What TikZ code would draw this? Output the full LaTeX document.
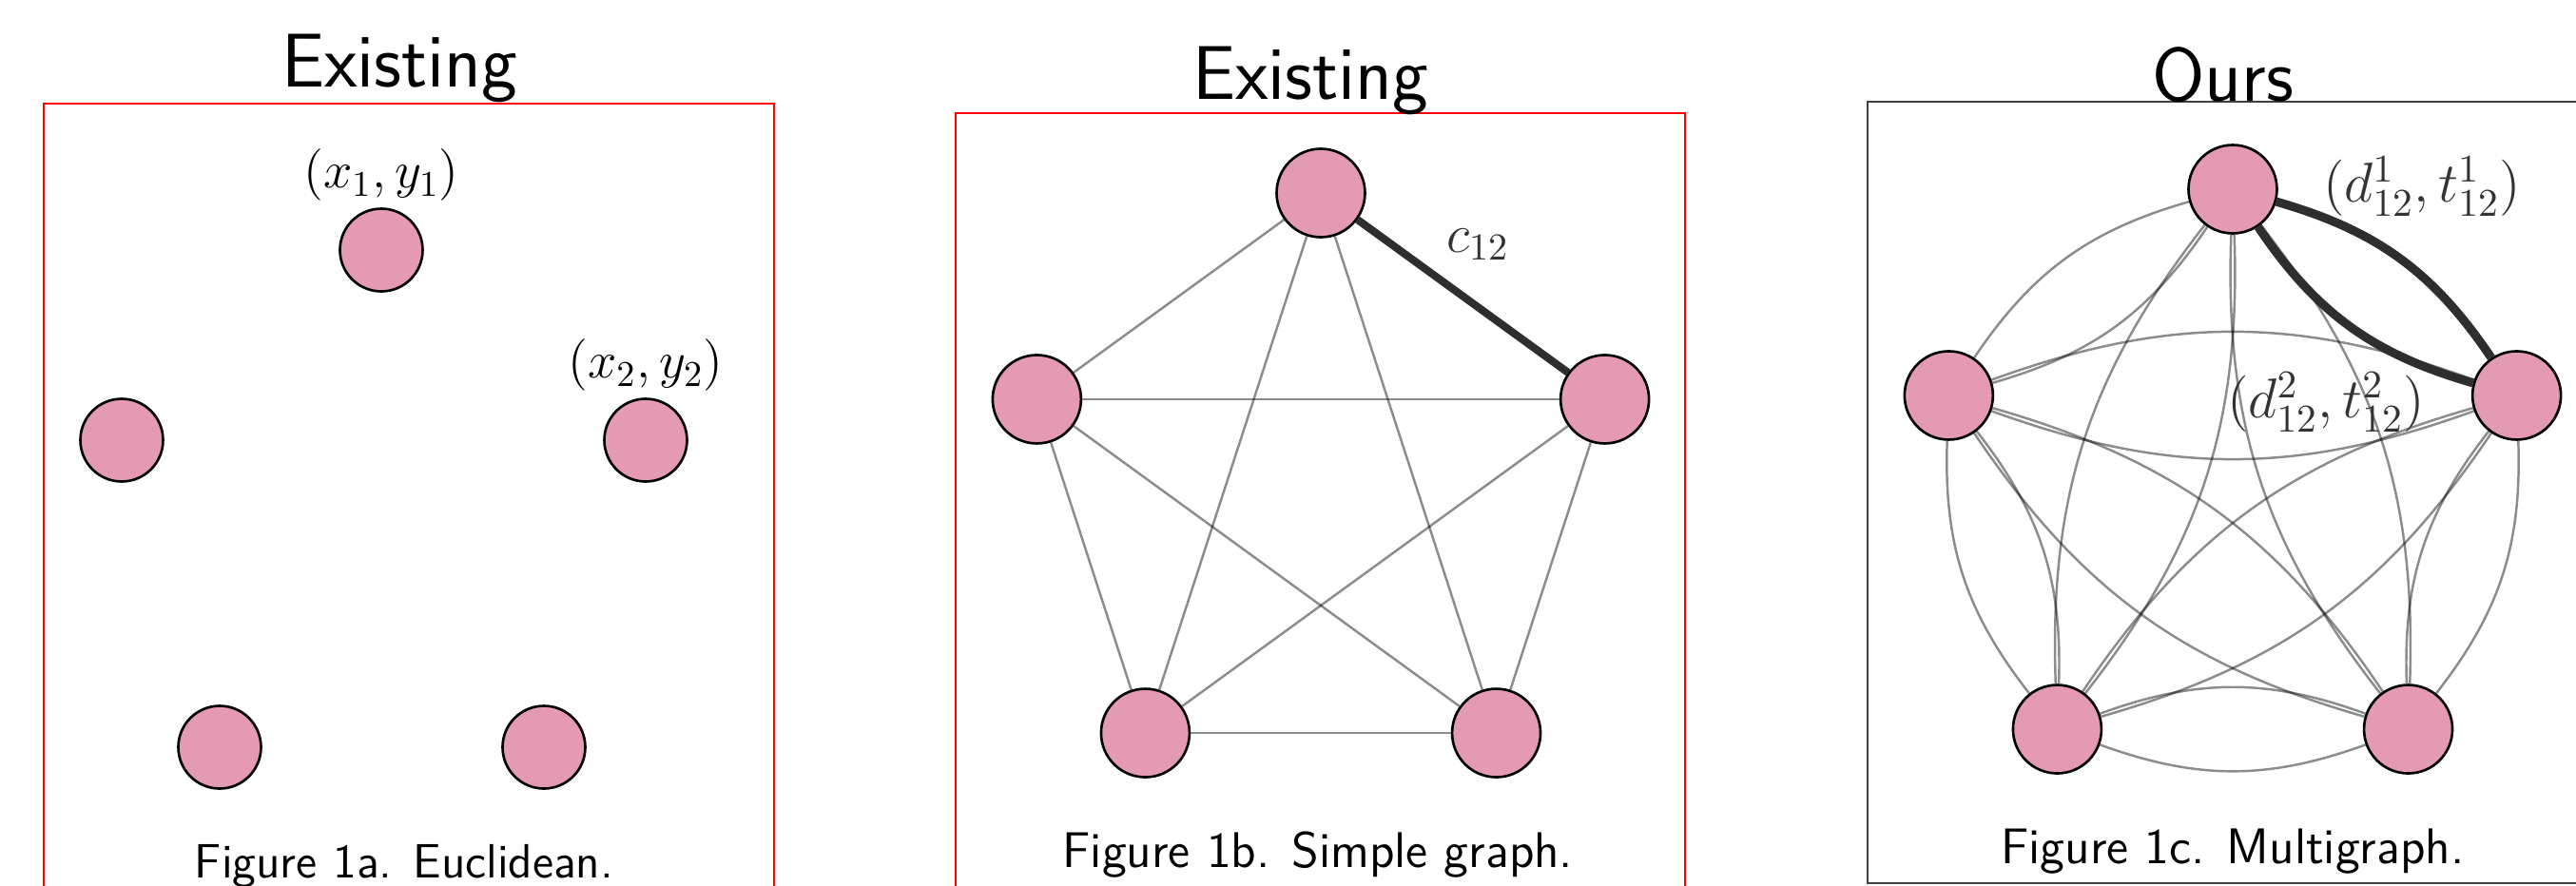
\RequirePackage{fix-cm}
\documentclass[tikz,border=0pt]{standalone}
\usepackage{amsmath}
\usetikzlibrary{positioning,calc}
\definecolor{Rose}{HTML}{E59AB3}
\definecolor{Ink}{HTML}{333333}
\tikzset{
 vtx/.style={circle,draw=black,line width=0.75pt,fill=Rose,minimum size=9.3mm,inner sep=0pt},
 smallvtx/.style={vtx,minimum size=8.7mm},
 panel/.style={draw=red,line width=0.5pt},
 ourpanel/.style={draw=black!75,line width=0.55pt},
 title/.style={font=\sffamily\fontsize{22.8}{27}\selectfont,anchor=base,inner sep=0pt},
 caption/.style={font=\sffamily\fontsize{15}{18}\selectfont,anchor=base,inner sep=0pt},
 lbl/.style={font=\fontsize{15.5}{18}\selectfont,inner sep=0pt},
 biglbl/.style={lbl,font=\fontsize{16.8}{20}\selectfont,text=Ink},
 link/.style={draw=black,draw opacity=0.45,line width=0.7pt},
 heavy/.style={draw=black!82,line width=2.6pt}
}
\begin{document}
\begin{tikzpicture}
\useasboundingbox (0,0) rectangle (27.09,9.31);
\draw[panel] (0.46,-0.5) rectangle (8.14,8.22);
\node[title] (ta) at (4.20,8.40) {Existing};
\node[smallvtx] (a1) at (4.01,6.68) {};
\node[smallvtx] (a2) at (6.79,4.68) {};
\node[smallvtx] (a3) at (5.72,1.45) {};
\node[smallvtx] (a4) at (2.31,1.45) {};
\node[smallvtx] (a5) at (1.28,4.68) {};
\node[lbl,above=0.6mm of a1] (pa1) {$(x_1,y_1)$};
\node[lbl,above=0.6mm of a2] (pa2) {$(x_2,y_2)$};
\node[caption,font=\sffamily\fontsize{14.4}{17}\selectfont] (capa) at (4.25,0.08) {Figure 1a. Euclidean.};

\draw[panel] (10.05,-0.5) rectangle (17.72,8.12);
\node[title] (tb) at (13.78,8.27) {Existing};
\coordinate (bc) at (13.89,4.14);
\node[vtx] (b1) at ($(bc)+(90:3.14)$) {};
\node[vtx] (b2) at ($(bc)+(18:3.14)$) {};
\node[vtx] (b3) at ($(bc)+(-54:3.14)$) {};
\node[vtx] (b4) at ($(bc)+(-126:3.14)$) {};
\node[vtx] (b5) at ($(bc)+(162:3.14)$) {};
\draw[link] (b1)--(b3);\draw[link] (b1)--(b4);\draw[link] (b1)--(b5);
\draw[link] (b2)--(b4);\draw[link] (b2)--(b5);\draw[link] (b2)--(b3);
\draw[link] (b3)--(b4);\draw[link] (b3)--(b5);\draw[link] (b4)--(b5);
\draw[heavy,line width=2.3pt] (b1)--(b2);
\node[biglbl,font=\fontsize{16.3}{19}\selectfont] (pb) at (15.54,6.74) {$c_{12}$};
\node[caption] (capb) at (13.86,0.19) {Figure 1b. Simple graph.};

\draw[ourpanel] (19.64,0.02) rectangle (27.40,8.24);
\node[title] (tc) at (23.375,8.25) {Ours};
\coordinate (cc) at (23.48,4.18);
\node[vtx] (c1) at ($(cc)+(90:3.14)$) {};
\node[vtx] (c2) at ($(cc)+(18:3.14)$) {};
\node[vtx] (c3) at ($(cc)+(-54:3.14)$) {};
\node[vtx] (c4) at ($(cc)+(-126:3.14)$) {};
\node[vtx] (c5) at ($(cc)+(162:3.14)$) {};
\draw[link] (c1) to[bend left=20] (c3);\draw[link] (c1) to[bend right=20] (c3);
\draw[link] (c1) to[bend left=20] (c4);\draw[link] (c1) to[bend right=20] (c4);
\draw[link] (c1) to[bend left=20] (c5);\draw[link] (c1) to[bend right=20] (c5);
\draw[link] (c2) to[bend left=20] (c3);\draw[link] (c2) to[bend right=20] (c3);
\draw[link] (c2) to[bend left=20] (c4);\draw[link] (c2) to[bend right=20] (c4);
\draw[link] (c2) to[bend left=20] (c5);\draw[link] (c2) to[bend right=20] (c5);
\draw[link] (c3) to[bend left=20] (c4);\draw[link] (c3) to[bend right=20] (c4);
\draw[link] (c3) to[bend left=20] (c5);\draw[link] (c3) to[bend right=20] (c5);
\draw[link] (c4) to[bend left=20] (c5);\draw[link] (c4) to[bend right=20] (c5);
\draw[heavy] (c1) to[bend left=20] (c2);\draw[heavy] (c1) to[bend right=20] (c2);
\node[biglbl] (pc1) at (25.47,7.35) {$(d^1_{12},t^1_{12})$};
\node[biglbl] (pc2) at (24.46,5.08) {$(d^2_{12},t^2_{12})$};
\node[caption] (capc) at (23.48,0.23) {Figure 1c. Multigraph.};
\end{tikzpicture}
\end{document}
